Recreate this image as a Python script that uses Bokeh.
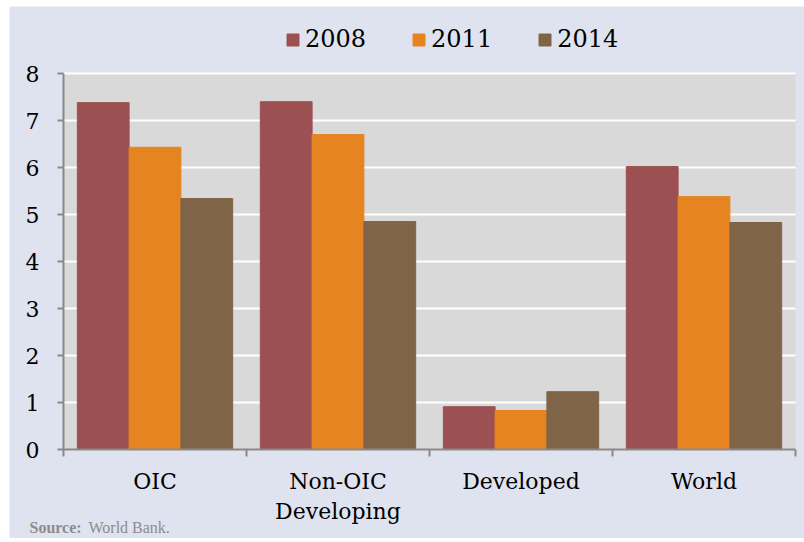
from bokeh.plotting import figure
from bokeh.models import ColumnDataSource, FixedTicker, Legend, LegendItem, Label, Range1d
from bokeh.embed import file_html
from bokeh.resources import INLINE

categories = ["OIC", "Non-OIC\nDeveloping", "Developed", "World"]
years = ["2008", "2011", "2014"]
v2008 = [7.38, 7.40, 0.91, 6.02]
v2011 = [6.43, 6.70, 0.83, 5.38]
v2014 = [5.34, 4.85, 1.23, 4.83]
y_ticks = [0, 1, 2, 3, 4, 5, 6, 7, 8]

colors = ["#9c5052", "#e58421", "#806447"]
series = [v2008, v2011, v2014]

FONT = "DejaVu Serif"
BLUE = "#dfe3ef"
GRAY_AXIS = "#898989"

W, H = 795, 532
# pixel layout of the plotting panel inside the figure
PX_LEFT, PX_RIGHT = 54, 786      # x=0 and x=4
PX_ZERO, PX_TOP = 443, 67         # y=0 and y=8 (from figure top)
ncat = len(categories)
ymax = y_ticks[-1]
xpu = (PX_RIGHT - PX_LEFT) / ncat
ypu = (PX_ZERO - PX_TOP) / ymax

p = figure(width=W, height=H, output_backend="svg", toolbar_location=None,
           x_range=Range1d(-PX_LEFT / xpu, ncat + (W - PX_RIGHT) / xpu),
           y_range=Range1d(-(H - PX_ZERO) / ypu, ymax + PX_TOP / ypu),
           min_border_left=0, min_border_right=0, min_border_top=0, min_border_bottom=0)
p.margin = (6, 0, 0, 9)
p.background_fill_color = BLUE
p.border_fill_color = BLUE
p.outline_line_color = None
p.xgrid.grid_line_color = None
p.ygrid.grid_line_color = None

# plot area background and gridlines
p.quad(left=[0], right=[ncat], bottom=[0], top=[ymax], fill_color="#d9d9d9", line_color=None)
p.segment(x0=[0] * (len(y_ticks) - 1), x1=[ncat] * (len(y_ticks) - 1),
          y0=y_ticks[1:], y1=y_ticks[1:], line_color="white", line_width=2)

bw = 0.283
offsets = [-bw, 0.0, bw]
items = []
for yr, vals, col, off in zip(years, series, colors, offsets):
    src = ColumnDataSource(dict(x=[i + 0.5 + off for i in range(ncat)], top=vals))
    r = p.vbar(x="x", top="top", width=bw, source=src, fill_color=col, line_color=col)
    items.append(LegendItem(label=yr, renderers=[r]))

# y axis
p.yaxis.fixed_location = 0
p.yaxis.bounds = (0, ymax)
p.yaxis.ticker = FixedTicker(ticks=y_ticks)
p.yaxis.axis_line_color = GRAY_AXIS
p.yaxis.axis_line_width = 2
p.yaxis.major_tick_line_color = GRAY_AXIS
p.yaxis.major_tick_line_width = 2
p.yaxis.major_tick_out = 6
p.yaxis.major_tick_in = 0
p.yaxis.minor_tick_line_color = None
p.yaxis.major_label_text_font = FONT
p.yaxis.major_label_text_font_size = "22px"
p.yaxis.major_label_text_color = "black"
p.yaxis.major_label_standoff = 18

# x axis
p.xaxis.fixed_location = 0
p.xaxis.bounds = (0, ncat)
p.xaxis.ticker = FixedTicker(ticks=[i + 0.5 for i in range(ncat)],
                             minor_ticks=list(range(ncat + 1)))
p.xaxis.major_label_overrides = {i + 0.5: c for i, c in enumerate(categories)}
p.xaxis.axis_line_color = GRAY_AXIS
p.xaxis.axis_line_width = 2
p.xaxis.major_tick_line_color = None
p.xaxis.major_tick_out = 6
p.xaxis.minor_tick_line_color = GRAY_AXIS
p.xaxis.minor_tick_line_width = 2
p.xaxis.minor_tick_out = 7
p.xaxis.minor_tick_in = 0
p.xaxis.major_label_text_font = FONT
p.xaxis.major_label_text_font_size = "22px"
p.xaxis.major_label_text_color = "black"
p.xaxis.major_label_standoff = 12

legend = Legend(items=items, orientation="horizontal", location=(276, 485))
legend.label_text_font = FONT
legend.label_text_font_size = "24px"
legend.label_text_color = "black"
legend.glyph_width = 15
legend.glyph_height = 15
legend.label_standoff = 5
legend.spacing = 45
legend.padding = 0
legend.margin = 0
legend.background_fill_alpha = 0
legend.border_line_color = None
p.add_layout(legend)

SRC_FONT = "Liberation Serif"
p.add_layout(Label(x=20, y=11, x_units="screen", y_units="screen", text="Source:",
                   text_font=SRC_FONT, text_font_size="16px", text_font_style="bold",
                   text_color="#8c8c8c", text_baseline="alphabetic"))
p.add_layout(Label(x=79, y=11, x_units="screen", y_units="screen", text="World Bank.",
                   text_font=SRC_FONT, text_font_size="16px", text_color="#8c8c8c",
                   text_baseline="alphabetic"))

open("out.html", "w").write(file_html(p, INLINE))
